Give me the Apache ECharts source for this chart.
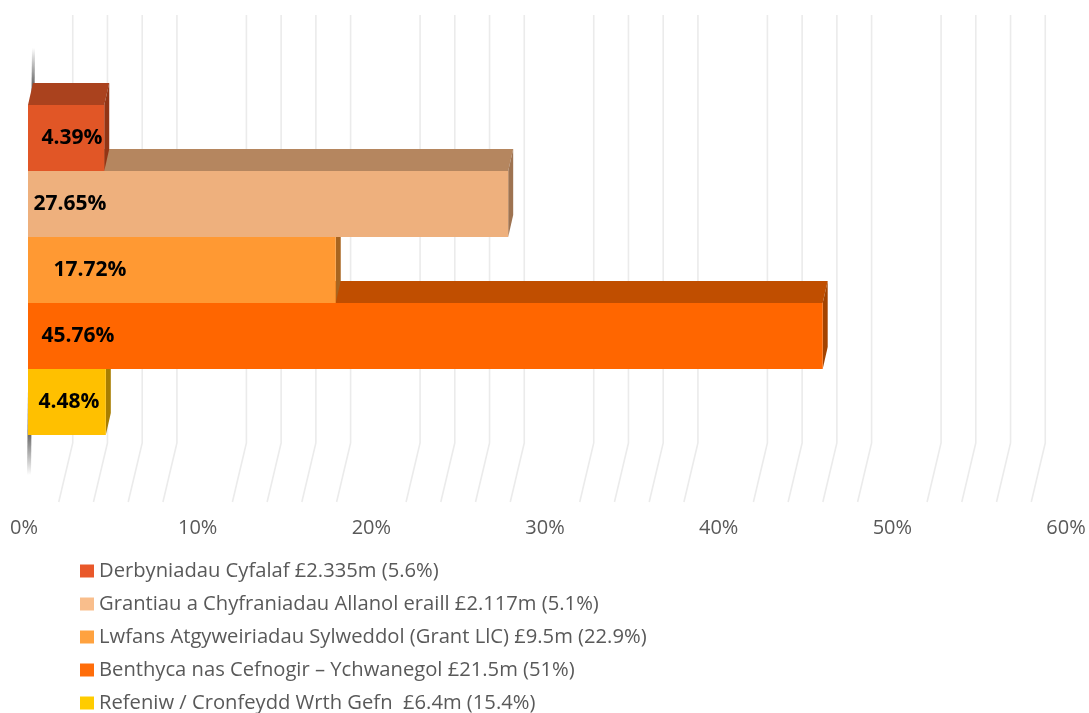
<!DOCTYPE html>
<html>
<head>
<meta charset="utf-8">
<script src="https://cdn.jsdelivr.net/npm/echarts@6/dist/echarts.min.js"></script>
<style>html,body{margin:0;padding:0;background:#fff;}#c{width:1089px;height:713px;}</style>
</head>
<body>
<div id="c"></div>
<script>
// ---- data ----
const categories = [
  'Derbyniadau Cyfalaf £2.335m (5.6%)',
  'Grantiau a Chyfraniadau Allanol eraill £2.117m (5.1%)',
  'Lwfans Atgyweiriadau Sylweddol (Grant LlC) £9.5m (22.9%)',
  'Benthyca nas Cefnogir – Ychwanegol £21.5m (51%)',
  'Refeniw / Cronfeydd Wrth Gefn  £6.4m (15.4%)'
];
const values = [4.39, 27.65, 17.72, 45.76, 4.48];
const axisMin = 0, axisMax = 60, axisInterval = 10, minorStep = 2;

// ---- styles ----
const frontColors = ['#E15626', '#EEB07D', '#FF9933', '#FF6600', '#FFC000'];
const topColors   = ['#AA421E', '#B5865F', '#B86E24', '#C04E00', '#B88A00'];
const sideColors  = ['#923515', '#9E7351', '#A8641F', '#A34300', '#A87E00'];
const legendColors = ['#E9582A', '#F9BE8C', '#FFA23F', '#FF6D0A', '#FFCC00'];
const labelDx = [44, 42, 62, 50, 41];
const DEPTH_X = 5, DEPTH_Y = -22;      // bar depth
const FLOOR_X = 14, FLOOR_Y = -59;     // floor depth
const FONT = 'Open Sans';

const chart = echarts.init(document.getElementById('c'), null, {renderer: 'canvas'});

function barRender(i) {
  return function (params, api) {
    const v = api.value(0), c = api.value(1);
    const p0 = api.coord([0, c]);
    const p1 = api.coord([v, c]);
    const h = api.size([0, 1])[1];
    const top = p0[1] - h / 2, bot = p0[1] + h / 2;
    const x0 = p0[0], x1 = p1[0];
    return {
      type: 'group',
      children: [
        { type: 'polygon', shape: { points: [[x0, top], [x1, top], [x1 + DEPTH_X, top + DEPTH_Y], [x0 + DEPTH_X, top + DEPTH_Y]] },
          style: { fill: topColors[i] } },
        { type: 'polygon', shape: { points: [[x1, top], [x1, bot], [x1 + DEPTH_X, bot + DEPTH_Y], [x1 + DEPTH_X, top + DEPTH_Y]] },
          style: { fill: sideColors[i] } },
        { type: 'rect', shape: { x: x0, y: top, width: x1 - x0, height: h },
          style: { fill: frontColors[i] } },
        { type: 'text', x: x0 + labelDx[i], y: p0[1],
          style: { text: v.toFixed(2) + '%', fill: '#000', font: 'bold 21px "' + FONT + '"', align: 'center', verticalAlign: 'middle' } }
      ]
    };
  };
}

function gridRender(params, api) {
  const children = [];
  for (let v = axisMin; v <= axisMax + 1e-9; v += minorStep) {
    if (Math.abs(v % axisInterval) < 1e-9) continue;
    const f = api.coord([v, 0]);
    const t = api.coord([v, 1]);
    children.push({
      type: 'polyline',
      shape: { points: [[f[0], f[1]], [f[0] + FLOOR_X, f[1] + FLOOR_Y], [f[0] + FLOOR_X, t[1]]] },
      style: { stroke: '#ebebeb', lineWidth: 1.6, fill: null }
    });
  }
  // left wall edge (thin shaded sliver)
  const z0 = api.coord([axisMin, 0]);
  const zt = api.coord([axisMin, 1]);
  children.push({
    type: 'polygon',
    shape: { points: [[z0[0] + 8, zt[1] + 33], [z0[0] + 11, zt[1] + 33], [z0[0] + 7, z0[1] - 27], [z0[0] + 3, z0[1] - 27]] },
    style: { fill: new echarts.graphic.LinearGradient(0, 0, 0, 1, [
      { offset: 0, color: 'rgba(70,70,70,0)' },
      { offset: 0.09, color: 'rgba(70,70,70,0.85)' },
      { offset: 0.9, color: 'rgba(70,70,70,0.85)' },
      { offset: 1, color: 'rgba(70,70,70,0)' }
    ]) }
  });
  return { type: 'group', children: children };
}

const series = [{
  type: 'custom', name: '_grid', xAxisIndex: 0, yAxisIndex: 0, z: 1,
  silent: true, renderItem: gridRender, data: [[axisMin, 0]]
}];
categories.forEach(function (name, i) {
  series.push({
    type: 'custom', name: name, xAxisIndex: 1, yAxisIndex: 1, z: 10 - i,
    itemStyle: { color: legendColors[i] },
    renderItem: barRender(i),
    data: [[values[i], i]]
  });
});

chart.setOption({
  animation: false,
  backgroundColor: '#fff',
  grid: [
    { left: 24, right: 23, top: 15, bottom: 211 },
    { left: 28, right: 19, top: 105, height: 330 }
  ],
  xAxis: [
    { type: 'value', gridIndex: 0, min: axisMin, max: axisMax, interval: axisInterval,
      axisLine: { show: false }, axisTick: { show: false }, splitLine: { show: false },
      axisLabel: { formatter: '{value}%', margin: 16, color: '#595959', fontFamily: FONT, fontSize: 20 } },
    { type: 'value', gridIndex: 1, min: axisMin, max: axisMax, show: false, splitLine: { show: false } }
  ],
  yAxis: [
    { type: 'value', gridIndex: 0, min: 0, max: 1, show: false, splitLine: { show: false } },
    { type: 'category', gridIndex: 1, data: categories.map(function (c, i) { return i; }), inverse: true, show: false }
  ],
  legend: {
    data: categories, orient: 'vertical', left: 80, top: 561, height: 300, icon: 'rect',
    itemWidth: 14, itemHeight: 13, itemGap: 13, padding: 0,
    textStyle: { fontFamily: FONT, fontSize: 20.2, color: '#595959', lineHeight: 20 },
    selectedMode: false
  },
  series: series
});
</script>
</body>
</html>
